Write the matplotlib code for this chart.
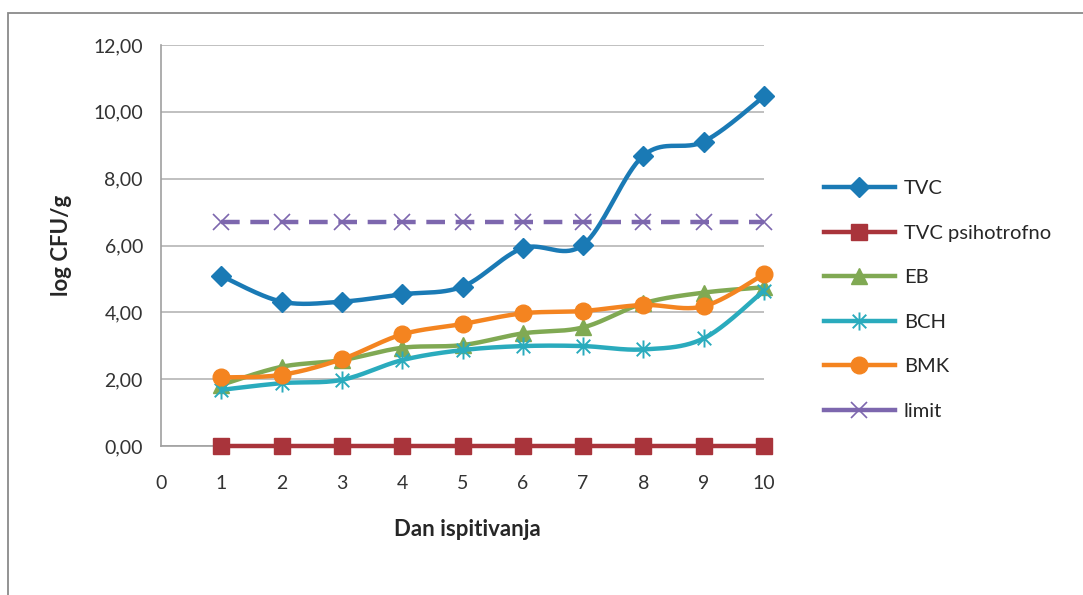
import numpy as np
import matplotlib
matplotlib.use("Agg")
import matplotlib.pyplot as plt
from matplotlib.lines import Line2D
from matplotlib.path import Path
from matplotlib.patches import Rectangle

plt.rcParams['font.family'] = ['Lato', 'DejaVu Sans']

days = [1, 2, 3, 4, 5, 6, 7, 8, 9, 10]
tvc = [5.09, 4.32, 4.32, 4.54, 4.77, 5.92, 6.02, 8.69, 9.11, 10.46]
tvc_psih = [0, 0, 0, 0, 0, 0, 0, 0, 0, 0]
eb = [1.83, 2.37, 2.57, 2.94, 3.02, 3.37, 3.55, 4.27, 4.59, 4.75]
bch = [1.68, 1.88, 1.98, 2.57, 2.87, 2.99, 2.99, 2.89, 3.22, 4.65]
bmk = [2.05, 2.13, 2.60, 3.34, 3.65, 3.97, 4.04, 4.22, 4.18, 5.14]
limit = [6.70] * 10

y_ticks = [0, 2, 4, 6, 8, 10, 12]
y_tick_labels = ['0,00', '2,00', '4,00', '6,00', '8,00', '10,00', '12,00']
x_ticks = [0, 1, 2, 3, 4, 5, 6, 7, 8, 9, 10]


def smooth(x, y, n=40):
    # Bezier smoothing through the points, like spreadsheet "smoothed line"
    pts = np.column_stack([x, y]).astype(float)
    P = np.vstack([pts[0], pts, pts[-1]])
    out = []
    t = np.linspace(0, 1, n)[:, None]
    for i in range(1, len(P) - 2):
        p0, p1, p2, p3 = P[i - 1], P[i], P[i + 1], P[i + 2]
        c1 = p1 + (p2 - p0) / 6
        c2 = p2 - (p3 - p1) / 6
        seg = ((1 - t) ** 3 * p1 + 3 * (1 - t) ** 2 * t * c1
               + 3 * (1 - t) * t ** 2 * c2 + t ** 3 * p2)
        out.append(seg if i == 1 else seg[1:])
    s = np.vstack(out)
    return s[:, 0], s[:, 1]


# asterisk marker: vertical stroke plus an X
star = Path([(0, -1), (0, 1), (-0.75, -0.75), (0.75, 0.75), (-0.75, 0.75), (0.75, -0.75)],
            [Path.MOVETO, Path.LINETO, Path.MOVETO, Path.LINETO, Path.MOVETO, Path.LINETO])

series = [
    ('TVC', tvc, '#1a7ab5', dict(marker='D', ms=10, mec='#1a7ab5'), '-'),
    ('TVC psihotrofno', tvc_psih, '#a9343b', dict(marker='s', ms=11, mec='#a9343b'), '-'),
    ('EB', eb, '#80a953', dict(marker='^', ms=11, mec='#80a953'), '-'),
    ('BCH', bch, '#2aabbd', dict(marker=star, ms=13, mec='#2aabbd', mfc='none', mew=1.4), '-'),
    ('BMK', bmk, '#f48420', dict(marker='o', ms=12, mec='#f48420'), '-'),
    ('limit', limit, '#7d67ae', dict(marker='x', ms=12, mec='#7d67ae', mew=1.2), (0, (4.2, 2.4))),
]

fig = plt.figure(figsize=(10.83, 5.95), dpi=100)
ax = fig.add_axes([161 / 1083, 149 / 595, 603 / 1083, 401 / 595])

handles = []
for i, (name, vals, color, mk, ls) in enumerate(series):
    sx, sy = smooth(days, vals)
    ax.plot(sx, sy, color=color, lw=3.2, ls=ls, solid_capstyle='round',
            clip_on=False, zorder=3 + i)
    ax.plot(days, vals, ls='none', color=color, clip_on=False, zorder=3 + i, **mk)
    handles.append(Line2D([], [], color=color, lw=3.2, ls='-', label=name, **mk))

ax.set_xlim(0, 10)
ax.set_ylim(0, 12)
ax.set_yticks(y_ticks)
ax.set_yticklabels(y_tick_labels)
ax.set_xticks(x_ticks)
ax.tick_params(axis='both', length=0, labelsize=14, colors='#333333')
ax.tick_params(axis='y', pad=13)
ax.tick_params(axis='x', pad=21)
ax.grid(axis='y', color='#b5b5b5', lw=1.2)
ax.set_axisbelow(True)
for side in ['top', 'right']:
    ax.spines[side].set_visible(False)
for side in ['left', 'bottom']:
    ax.spines[side].set_color('#a0a0a0')
    ax.spines[side].set_linewidth(1.2)

fig.text(62 / 1083, 1 - 245 / 595, 'log CFU/g', rotation=90, ha='center', va='center',
         fontsize=16, fontweight='bold', color='#262626')
fig.text(467 / 1083, 1 - 530 / 595, 'Dan ispitivanja', ha='center', va='center',
         fontsize=16, fontweight='bold', color='#262626')

fig.legend(handles=handles, loc='upper left', bbox_to_anchor=(806 / 1083, 1 - 162 / 595),
           frameon=False, fontsize=14.5, handlelength=3.5, handletextpad=0.45,
           labelspacing=1.36, labelcolor='#262626')

# outer chart border (left and top edges)
fig.patches.append(Rectangle((8 / 1083, -0.1), 1.2, 1 - 13 / 595 + 0.1,
                             transform=fig.transFigure, fill=False,
                             edgecolor='#8a8a8a', lw=1.3))

fig.savefig('out.png', dpi=100)
